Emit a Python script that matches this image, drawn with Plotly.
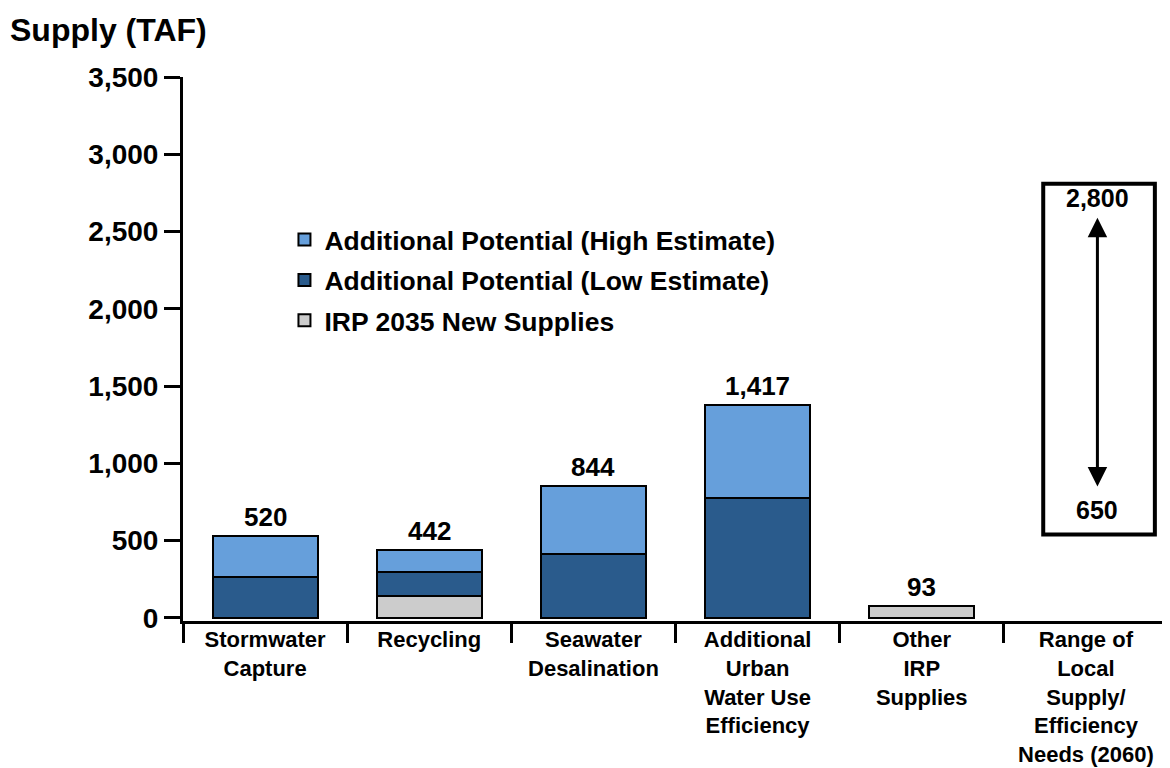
import plotly.graph_objects as go

categories = ["Stormwater<br>Capture", "Recycling", "Seawater<br>Desalination",
              "Additional<br>Urban<br>Water Use<br>Efficiency", "Other<br>IRP<br>Supplies",
              "Range of<br>Local<br>Supply/<br>Efficiency<br>Needs (2060)"]
irp_2035 = [0, 145, 0, 0, 78, None]
low_est = [265, 150, 415, 778, 0, None]
high_est = [267, 145, 440, 597, 0, None]
total_labels = ["520", "442", "844", "1,417", "93", None]
range_high = 2800
range_low = 650
range_high_label = "2,800"
range_low_label = "650"

FONT = "Liberation Sans, Arial, Helvetica, sans-serif"
LIGHT = "#669FDB"
DARK = "#2A5B8C"
GRAY = "#CCCCCC"

fig = go.Figure()
fig.add_trace(go.Bar(x=categories, y=irp_2035, name="IRP 2035 New Supplies",
                     marker=dict(color=GRAY, line=dict(color="black", width=2)),
                     width=0.64, legendrank=3, legendgroup="c"))
fig.add_trace(go.Bar(x=categories, y=low_est, name="Additional Potential (Low Estimate)",
                     marker=dict(color=DARK, line=dict(color="black", width=2)),
                     width=0.64, legendrank=2, legendgroup="b"))
fig.add_trace(go.Bar(x=categories, y=high_est, name="Additional Potential (High Estimate)",
                     marker=dict(color=LIGHT, line=dict(color="black", width=2)),
                     width=0.64, legendrank=1, legendgroup="a"))

# total labels above the bars
for i, lab in enumerate(total_labels):
    if lab is None:
        continue
    tot = (irp_2035[i] or 0) + (low_est[i] or 0) + (high_est[i] or 0)
    fig.add_annotation(x=categories[i], y=tot, text=lab, showarrow=False,
                       yanchor="bottom", yshift=2,
                       font=dict(family=FONT, size=26, color="black"))

# range box in last category
xi = len(categories) - 1
fig.add_shape(type="rect", xref="x", yref="y", x0=xi - 0.26, x1=xi + 0.42,
              y0=range_low - 110, y1=range_high + 10,
              line=dict(color="black", width=4), fillcolor="rgba(0,0,0,0)")
fig.add_annotation(x=xi + 0.07, y=range_high - 210, ax=xi + 0.07, ay=range_low + 190,
                   xref="x", yref="y", axref="x", ayref="y", text="",
                   showarrow=True, arrowhead=2, arrowsize=1.3, arrowwidth=3, arrowcolor="black",
                   startarrowhead=2, startarrowsize=1.3, arrowside="end+start")
fig.add_annotation(x=xi + 0.07, y=range_high - 80, text=range_high_label, showarrow=False,
                   font=dict(family=FONT, size=25, color="black"))
fig.add_annotation(x=xi + 0.07, y=range_low + 50, text=range_low_label, showarrow=False,
                   font=dict(family=FONT, size=25, color="black"))

fig.add_annotation(xref="paper", yref="paper", x=-0.178, y=1.0, yshift=47,
                   xanchor="left", yanchor="middle", text="<b>Supply (TAF)</b>",
                   showarrow=False, font=dict(family=FONT, size=32, color="black"))

# page body has an 8px margin, so the figure is drawn 8px smaller and offset
fig.update_layout(
    barmode="stack",
    width=1162, height=760,
    margin=dict(l=175, r=2, t=69, b=147, autoexpand=False),
    plot_bgcolor="white", paper_bgcolor="white",
    font=dict(family=FONT, size=24, color="black", weight="bold"),
    showlegend=True,
    legend=dict(x=0.103, y=0.745, xanchor="left", yanchor="top",
                font=dict(family=FONT, size=26.5, color="black", weight="bold"),
                tracegroupgap=3, bgcolor="rgba(0,0,0,0)"),
    xaxis=dict(type="category", showline=True, linecolor="black", linewidth=3,
               ticks="outside", tickson="boundaries", ticklen=19, tickwidth=3,
               tickcolor="black", tickfont=dict(family=FONT, size=22, weight="bold"),
               ticklabelstandoff=-3,
               showgrid=False, range=[-0.5, len(categories) - 0.5], automargin=False),
    yaxis=dict(range=[-20, 3500], tickvals=[0, 500, 1000, 1500, 2000, 2500, 3000, 3500],
               ticktext=["0", "500", "1,000", "1,500", "2,000", "2,500", "3,000", "3,500"],
               showline=True, linecolor="black", linewidth=3, ticks="outside",
               ticklen=16, tickwidth=3, tickcolor="black", showgrid=False, zeroline=False,
               automargin=False, tickfont=dict(family=FONT, size=28, weight="bold")),
)

fig.write_html("out.html")
